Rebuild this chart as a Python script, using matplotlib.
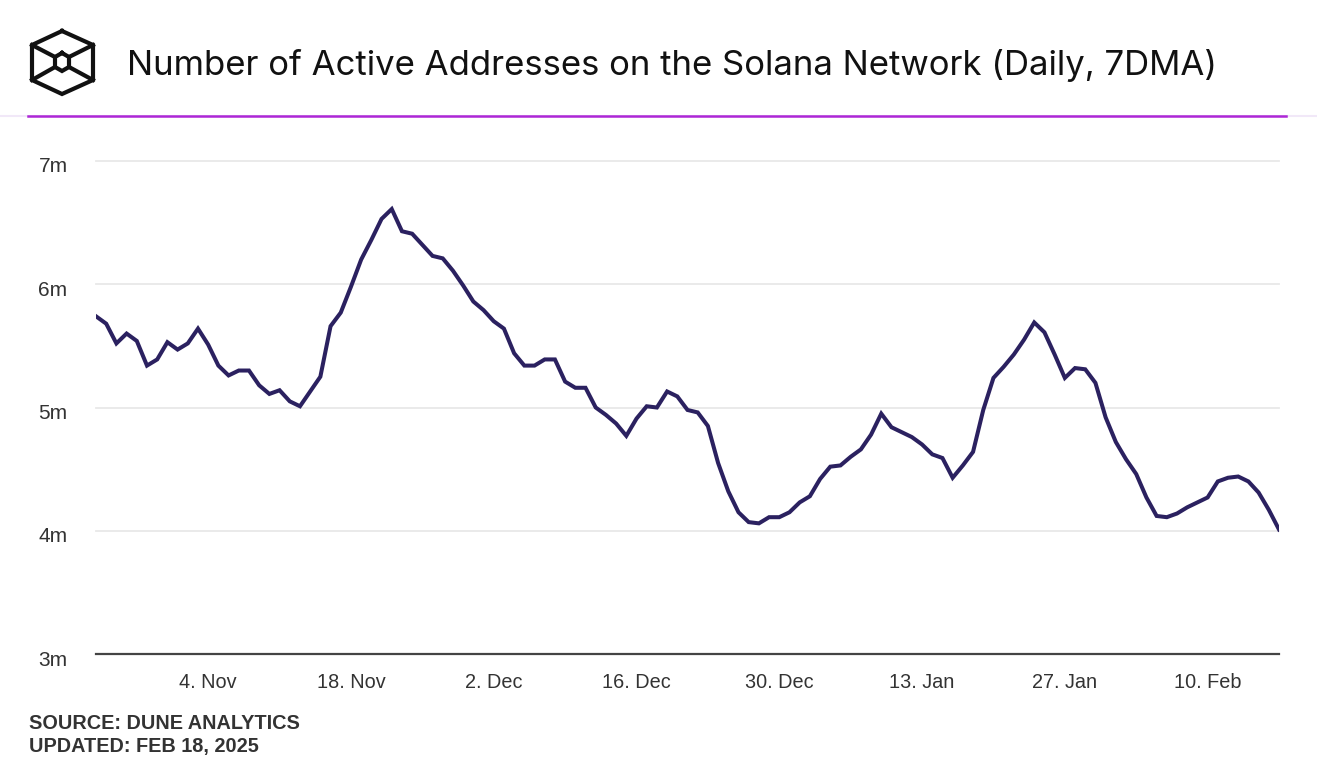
import matplotlib.pyplot as plt
import matplotlib.transforms as mtransforms
from matplotlib.lines import Line2D
import numpy as np
import pandas as pd


#======= Donnees =======

start_date = "2024-10-24"
end_date = "2025-02-17"

# adresses actives, moyenne 7 jours (millions)
active_m = [5.74, 5.68, 5.52, 5.60, 5.54, 5.34, 5.39, 5.53, 5.47, 5.52,
            5.64, 5.51, 5.34, 5.26, 5.30, 5.30, 5.18, 5.11, 5.14, 5.05,
            5.01, 5.13, 5.25, 5.66, 5.77, 5.98, 6.20, 6.36, 6.53, 6.61,
            6.43, 6.41, 6.32, 6.23, 6.21, 6.11, 5.99, 5.86, 5.79, 5.70,
            5.64, 5.44, 5.34, 5.34, 5.39, 5.39, 5.21, 5.16, 5.16, 5.00,
            4.94, 4.87, 4.77, 4.91, 5.01, 5.00, 5.13, 5.09, 4.98, 4.96,
            4.85, 4.55, 4.32, 4.15, 4.07, 4.06, 4.11, 4.11, 4.15, 4.23,
            4.28, 4.42, 4.52, 4.53, 4.60, 4.66, 4.78, 4.95, 4.84, 4.80,
            4.76, 4.70, 4.62, 4.59, 4.43, 4.53, 4.64, 4.98, 5.24, 5.33,
            5.43, 5.55, 5.69, 5.61, 5.43, 5.24, 5.32, 5.31, 5.20, 4.92,
            4.72, 4.58, 4.46, 4.27, 4.12, 4.11, 4.14, 4.19, 4.23, 4.27,
            4.40, 4.43, 4.44, 4.40, 4.31, 4.17, 4.01]

tick_dates = ["2024-11-04", "2024-11-18", "2024-12-02", "2024-12-16",
              "2024-12-30", "2025-01-13", "2025-01-27", "2025-02-10"]
y_ticks = [3, 4, 5, 6, 7]
y_labels = ["3m", "4m", "5m", "6m", "7m"]

title = "Number of Active Addresses on the Solana Network (Daily, 7DMA)"
source = "SOURCE: DUNE ANALYTICS\nUPDATED: FEB 18, 2025"

#======= Figure =======

W, H = 1317, 768
fig = plt.figure(figsize=(W / 100, H / 100), dpi=100)
fig.patch.set_facecolor("white")

dates = pd.date_range(start_date, end_date, freq="D")

ax = fig.add_axes([96 / W, 1 - 654 / H, (1279 - 96) / W, (654 - 161) / H])
ax.plot(dates, active_m, color="#2b2160", lw=2.9, solid_joinstyle="miter")

ax.set_xlim(dates[0], dates[-1])
ax.set_ylim(3, 7)

ax.set_yticks(y_ticks)
ax.set_yticklabels(y_labels, fontfamily="Liberation Sans", fontsize=15, color="#333333")
ticks = pd.to_datetime(tick_dates)
ax.set_xticks(ticks)
ax.set_xticklabels([f"{d.day}. {d.strftime('%b')}" for d in ticks],
                   fontfamily="Liberation Sans", fontsize=14.3, color="#333333")
ax.tick_params(axis="both", length=0)
ax.tick_params(axis="y", pad=20.5)
ax.tick_params(axis="x", pad=14)

# labels y legerement sous la grille
shift = mtransforms.ScaledTranslation(0, -4 / 100, fig.dpi_scale_trans)
for lab in ax.get_yticklabels():
    lab.set_transform(lab.get_transform() + shift)

for y in y_ticks[1:]:
    ax.axhline(y, color="#e8e8e8", lw=1.3, zorder=0, clip_on=False)

for s in ["top", "right", "left"]:
    ax.spines[s].set_visible(False)
ax.spines["bottom"].set_color("#444444")
ax.spines["bottom"].set_linewidth(1.6)

#======= En-tete =======

fig.add_artist(Line2D([0, 1], [1 - 116 / H] * 2, color="#f1e8f8", lw=1.5))
fig.add_artist(Line2D([28 / W, 1286 / W], [1 - 116 / H] * 2, color="#ad27d6", lw=1.8))

fig.text(127 / W, 1 - 66 / H, title, fontfamily="Inter", fontsize=25,
         color="#111111", va="center", ha="left")

# logo (cube hexagonal)
outer = [(62, 31), (93, 45), (93, 80), (62, 94), (32, 80), (32, 45), (62, 31)]
inner = [(62, 53), (69, 57), (69, 67), (62, 71), (55, 67), (55, 57), (62, 53)]
spokes = [((32, 45), (55, 57)), ((93, 45), (69, 57)),
          ((32, 80), (55, 67)), ((93, 80), (69, 67))]


def px(pts):
    return [p[0] / W for p in pts], [1 - p[1] / H for p in pts]


for shape in [outer, inner]:
    xs, ys = px(shape)
    fig.add_artist(Line2D(xs, ys, color="#111111", lw=3, solid_joinstyle="miter"))
for a, b in spokes:
    xs, ys = px([a, b])
    fig.add_artist(Line2D(xs, ys, color="#111111", lw=3))

#======= Source =======

fig.text(29 / W, 1 - 735 / H, source, fontfamily="Liberation Sans",
         fontweight="bold", fontsize=14.3, color="#333333", va="center",
         ha="left", linespacing=1.22)

fig.savefig("out.png", dpi=100, facecolor="white")
